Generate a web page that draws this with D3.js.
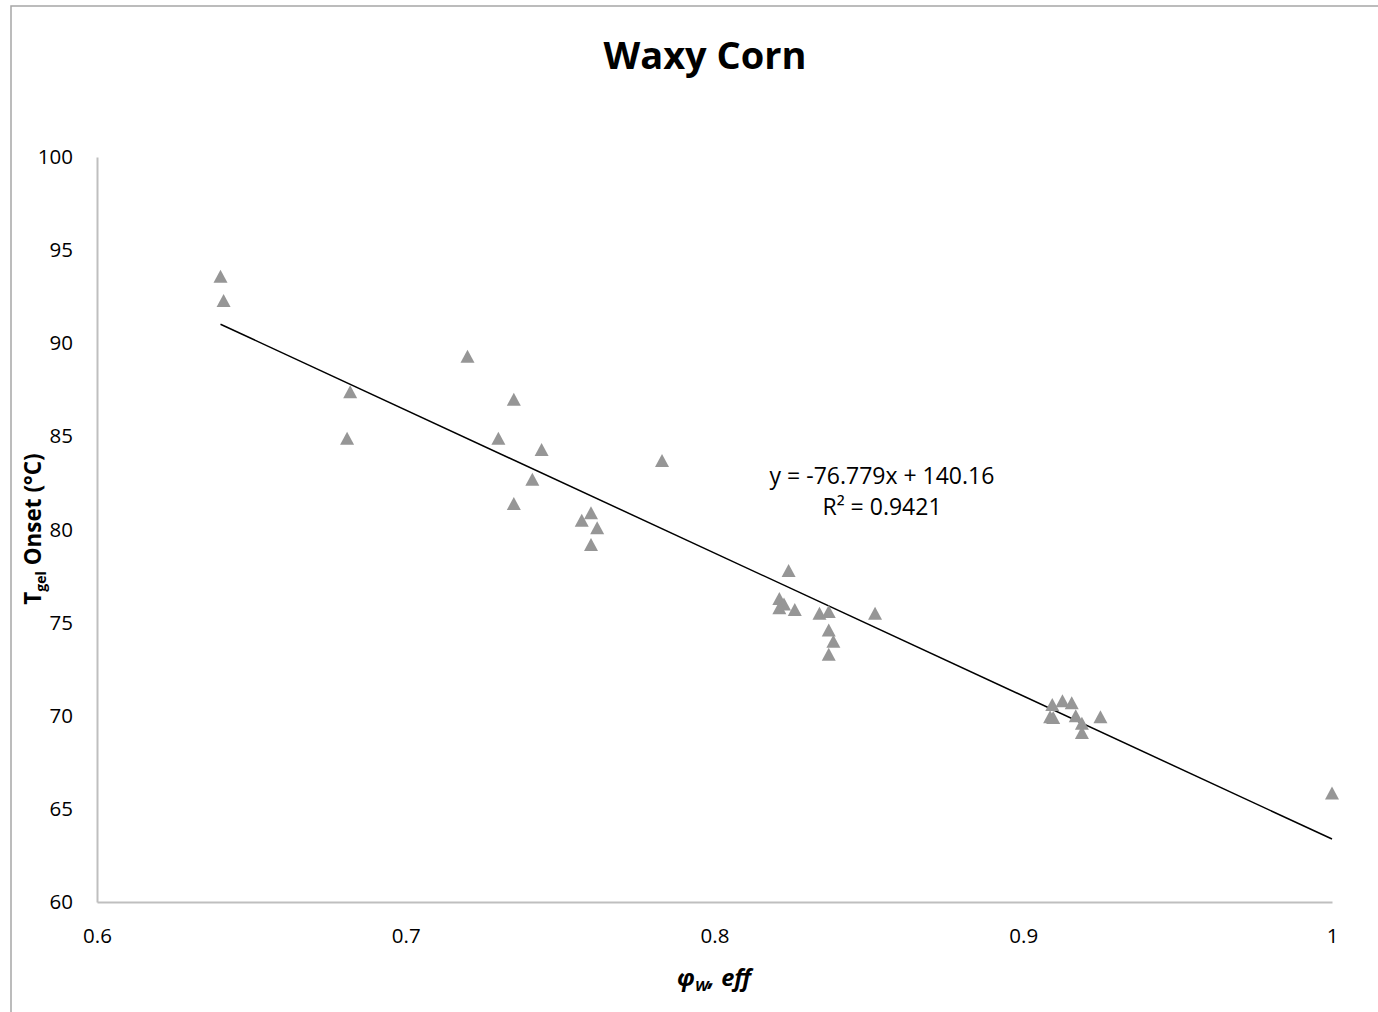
<!DOCTYPE html>
<html>
<head>
<meta charset="utf-8">
<script src="https://cdn.jsdelivr.net/npm/d3@7"></script>
<style>
  body { margin: 0; background: #fff; }
  text { font-family: "Open Sans", Lato, sans-serif; fill: #000; }
</style>
</head>
<body>
<div id="chart"></div>
<script>
// phi_w,eff values and gelatinisation onset temperatures
const phiW = [
  0.640, 0.641, 0.682, 0.681, 0.720, 0.735, 0.730, 0.744, 0.741, 0.735,
  0.783, 0.757, 0.760, 0.762, 0.760,
  0.824, 0.821, 0.8225, 0.821, 0.826, 0.834, 0.837, 0.837, 0.8385, 0.837, 0.852,
  0.9094, 0.9127, 0.9157, 0.9087, 0.9097, 0.917, 0.919, 0.919, 0.925,
  1.000
];
const tOnset = [
  93.6, 92.3, 87.4, 84.9, 89.3, 87.0, 84.9, 84.3, 82.7, 81.4,
  83.7, 80.5, 80.9, 80.1, 79.2,
  77.8, 76.3, 76.0, 75.8, 75.7, 75.5, 75.6, 74.6, 74.0, 73.3, 75.5,
  70.6, 70.8, 70.7, 69.95, 69.9, 70.0, 69.6, 69.1, 69.95,
  65.85
];
const xTicks = [0.6, 0.7, 0.8, 0.9, 1];
const yTicks = [60, 65, 70, 75, 80, 85, 90, 95, 100];
const slope = -76.779;
const intercept = 140.16;
const eqLabel = "y = -76.779x + 140.16";
const r2Label = "R² = 0.9421";

const W = 1378, H = 1012;
const margin = {top: 157, right: 46, bottom: 110, left: 97};

const svg = d3.select("#chart").append("svg")
  .attr("width", W)
  .attr("height", H);

// outer chart frame (runs off the right and bottom of the picture)
svg.append("rect")
  .attr("x", 11).attr("y", 6)
  .attr("width", W).attr("height", H)
  .style("fill", "none")
  .style("stroke", "#a6a6a6")
  .style("stroke-width", 1.5);

const x = d3.scaleLinear()
  .domain([0.6, 1])
  .range([margin.left, W - margin.right]);

const y = d3.scaleLinear()
  .domain([60, 100])
  .range([H - margin.bottom, margin.top]);

svg.append("text")
  .attr("x", 705)
  .attr("y", 69)
  .style("text-anchor", "middle")
  .style("font-size", "38px")
  .style("font-weight", "bold")
  .text("Waxy Corn");

const xAxis = d3.axisBottom(x)
  .tickValues(xTicks)
  .tickSize(0)
  .tickPadding(26)
  .tickFormat(d3.format("~g"));

const yAxis = d3.axisLeft(y)
  .tickValues(yTicks)
  .tickSize(0)
  .tickPadding(24)
  .tickFormat(d3.format("d"));

const gx = svg.append("g")
  .attr("class", "x axis")
  .attr("transform", "translate(0," + y(60) + ")")
  .call(xAxis);

const gy = svg.append("g")
  .attr("class", "y axis")
  .attr("transform", "translate(" + x(0.6) + ",0)")
  .call(yAxis);

[gx, gy].forEach(g => {
  g.select(".domain")
    .style("stroke", "#bfbfbf")
    .style("stroke-width", 2);
  g.selectAll(".tick text")
    .style("font-size", "20.5px")
    .style("font-family", "'Open Sans', Lato, sans-serif");
});

// linear trendline over the data range
const xExt = d3.extent(phiW);
svg.append("line")
  .attr("x1", x(xExt[0]))
  .attr("y1", y(slope * xExt[0] + intercept))
  .attr("x2", x(xExt[1]))
  .attr("y2", y(slope * xExt[1] + intercept))
  .style("stroke", "#000")
  .style("stroke-width", 1.5);

const tri = "M0,-6.5L7,6.5L-7,6.5Z";
svg.append("g")
  .selectAll("path")
  .data(phiW.map((d, i) => [d, tOnset[i]]))
  .enter().append("path")
  .attr("d", tri)
  .attr("transform", d => "translate(" + x(d[0]) + "," + y(d[1]) + ")")
  .style("fill", "#969696");

svg.append("text")
  .attr("x", 882).attr("y", 484)
  .style("text-anchor", "middle")
  .style("font-size", "23px")
  .text(eqLabel);

svg.append("text")
  .attr("x", 882).attr("y", 515)
  .style("text-anchor", "middle")
  .style("font-size", "23px")
  .text(r2Label);

// axis titles
const yt = svg.append("text")
  .attr("transform", "translate(41,529) rotate(-90)")
  .style("text-anchor", "middle")
  .style("font-size", "22.5px")
  .style("font-weight", "bold");
yt.append("tspan").text("T");
yt.append("tspan").attr("dy", 5).style("font-size", "14px").text("gel");
yt.append("tspan").attr("dy", -5).text(" Onset (°C)");

const xt = svg.append("text")
  .attr("x", 714).attr("y", 986)
  .style("text-anchor", "middle")
  .style("font-size", "23.5px")
  .style("font-weight", "bold")
  .style("font-style", "italic");
xt.append("tspan").text("φ");
xt.append("tspan").attr("dy", 5).style("font-size", "15px").text("W");
xt.append("tspan").attr("dy", -5).text(", eff");
</script>
</body>
</html>
